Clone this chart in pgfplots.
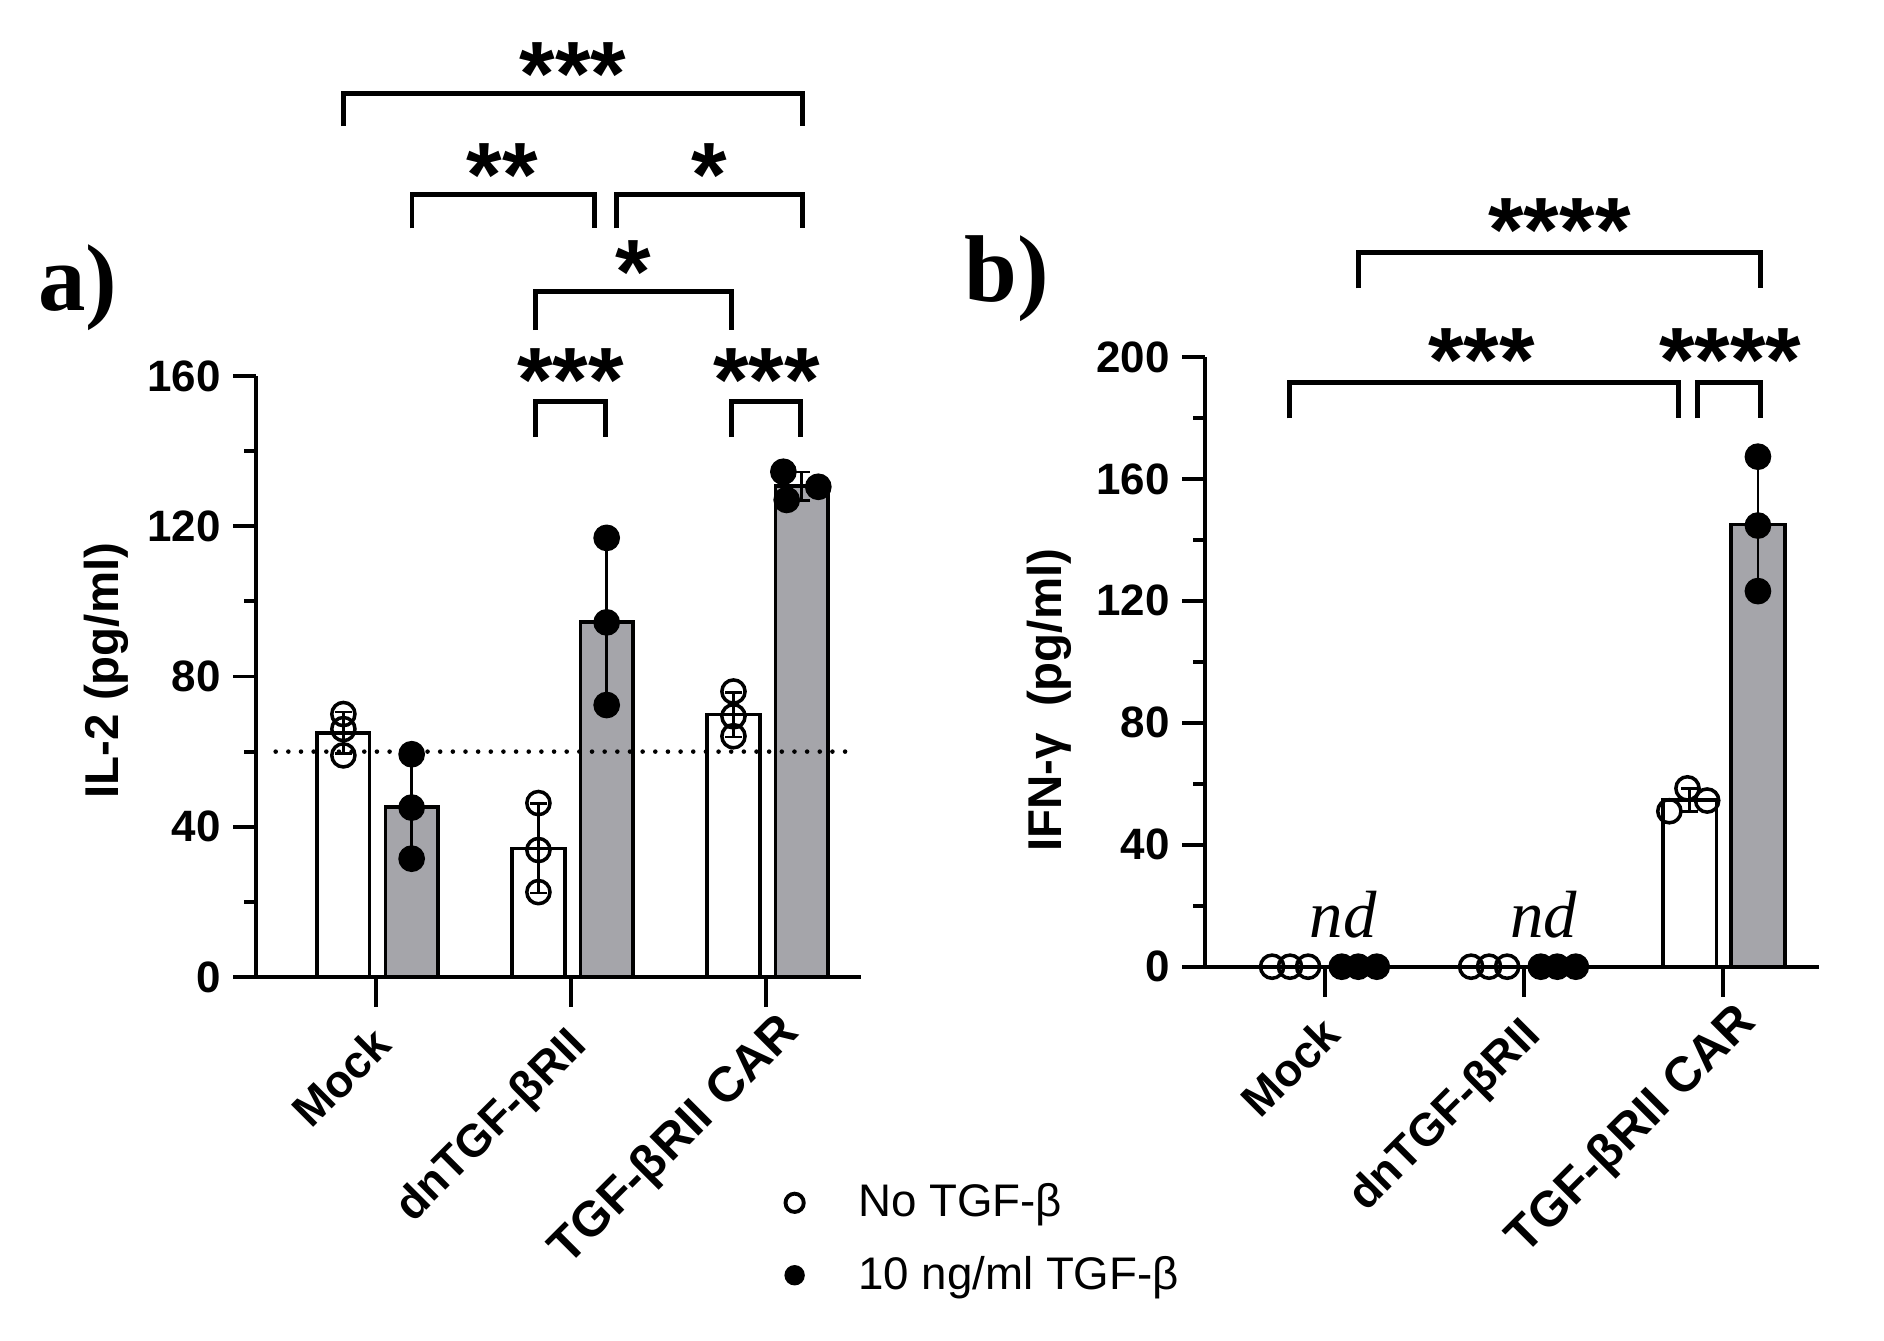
\documentclass[border=0pt]{standalone}
\usepackage{pgfplots}
\pgfplotsset{compat=1.18}
\usepackage{fontspec}
\setmainfont{Liberation Sans}
\newfontfamily\serif{Liberation Serif}
\definecolor{bargray}{RGB}{165,165,170}
\newcommand{\starfont}{\bfseries\fontsize{26}{26}\selectfont}
\newcommand{\ndfont}{\serif\itshape\fontsize{19}{19}\selectfont}
\begin{document}
\begin{tikzpicture}[x=1mm,y=1mm]
\path[use as bounding box] (0,0) rectangle (188.4,134.1);
\pgfplotsset{
  common/.style={
    scale only axis,
    axis x line*=bottom, axis y line*=left, separate axis lines,
    every outer x axis line/.append style={-},
    every outer y axis line/.append style={-},
    axis line style={line width=1.1pt},
    xtick pos=bottom, ytick pos=left,
    clip=false,
    tick align=outside,
    major tick length=2.3mm,
    minor tick length=1.2mm,
    every tick/.style={black, line width=1.1pt},
    xtick={0,1,2},
    xticklabels={Mock, dnTGF-βRII, {\fontsize{14}{14}\selectfont TGF-βRII CAR\hspace*{-2.1mm}}},
    xtick style={/pgfplots/major tick length=3mm},
    minor y tick num=1,
    xticklabel style={font=\bfseries\fontsize{13}{13}\selectfont, xshift=-0.55mm, yshift=-2.3mm, rotate=45, anchor=north east, inner sep=0pt},
    yticklabel style={font=\bfseries\fontsize{12.5}{13}\selectfont},
    /pgf/number format/assume math mode=true,
    ylabel style={font=\bfseries\fontsize{13.5}{14}\selectfont, anchor=center},
  },
  wbar/.style={ybar, bar width=0.27, bar shift=0pt, fill=white, draw=black, line width=1pt,
    error bars/.cd, y dir=both, y explicit,
    error bar style={black, line width=0.8pt},
    error mark options={rotate=90, mark size=2.4pt, line width=0.8pt, black}},
  gbar/.style={ybar, bar width=0.27, bar shift=0pt, fill=bargray, draw=black, line width=1pt,
    error bars/.cd, y dir=both, y explicit,
    error bar style={black, line width=0.8pt},
    error mark options={rotate=90, mark size=2.4pt, line width=0.8pt, black}},
  opend/.style={only marks, mark=o, mark size=3.3pt, mark options={line width=1pt, black, fill=none}},
  filld/.style={only marks, mark=*, mark size=3.6pt, mark options={draw=black, fill=black}},
}
% ---------------- panel a ----------------
\begin{axis}[common,
  at={(25.6mm,36.4mm)}, anchor=south west,
  width=60.5mm, height=60.1mm,
  xmin=-0.615, xmax=2.487, ymin=0, ymax=160,
  ytick={0,40,80,120,160},
  ylabel={IL-2 (pg/ml)},
  ylabel style={at={(axis description cs:-0.248,0.51)}},
  legend style={at={(0.856,-0.436)}, anchor=west, draw=none, fill=none,
    font=\fontsize{13}{15}\selectfont, row sep=2mm,
    /tikz/every odd column/.style={column sep=4.7mm}},
  legend cell align=left,
]
\addlegendimage{only marks, mark=o, mark size=2.6pt, mark options={line width=1.1pt, black}}
\addlegendentry{No TGF-β}
\addlegendimage{only marks, mark=*, mark size=2.7pt, mark options={black}}
\addlegendentry{10 ng/ml TGF-β}
\addplot[wbar] coordinates {(-0.167,65) +- (0,5.57) (0.833,34.23) +- (0,11.86) (1.833,69.83) +- (0,5.96)};
\addplot[gbar] coordinates {(0.183,45.3) +- (0,13.9) (1.183,94.57) +- (0,22.25) (2.183,130.67) +- (0,3.75)};
\addplot[line width=1.3pt, dash pattern=on 0pt off 3.6pt, line cap=round] coordinates {(-0.514,60) (2.47,60)};
\addplot[opend] coordinates {(-0.167,70) (-0.167,66) (-0.167,59) (0.833,46.3) (0.833,33.8) (0.833,22.6) (1.833,76) (1.833,69.4) (1.833,64.1)};
\addplot[filld] coordinates {(0.183,59.3) (0.183,45.1) (0.183,31.5) (1.183,116.9) (1.183,94.4) (1.183,72.4) (2.089,134.5) (2.268,130.5) (2.106,127)};
% brackets
\draw[line width=1.4pt] (axis cs:-0.166,226.5) |- (axis cs:2.188,235.2) -- (axis cs:2.188,226.5);
\draw[line width=1.4pt] (axis cs:0.185,199.3) |- (axis cs:1.122,208.3) -- (axis cs:1.122,199.3);
\draw[line width=1.4pt] (axis cs:1.233,199.3) |- (axis cs:2.188,208.3) -- (axis cs:2.188,199.3);
\draw[line width=1.4pt] (axis cs:0.82,172.2) |- (axis cs:1.824,182.4) -- (axis cs:1.824,172.2);
\draw[line width=1.4pt] (axis cs:0.82,143.7) |- (axis cs:1.177,153.3) -- (axis cs:1.177,143.7);
\draw[line width=1.4pt] (axis cs:1.824,143.7) |- (axis cs:2.175,153.3) -- (axis cs:2.175,143.7);
\node[anchor=base, inner sep=0pt, font=\starfont] at (axis cs:1.011,232.1) {***};
\node[anchor=base, inner sep=0pt, font=\starfont] at (axis cs:0.647,205) {**};
\node[anchor=base, inner sep=0pt, font=\starfont] at (axis cs:1.707,205) {*};
\node[anchor=base, inner sep=0pt, font=\starfont] at (axis cs:1.319,179.3) {*};
\node[anchor=base, inner sep=0pt, font=\starfont] at (axis cs:0.998,150.5) {***};
\node[anchor=base, inner sep=0pt, font=\starfont] at (axis cs:2.003,150.5) {***};
\end{axis}
% ---------------- panel b ----------------
\begin{axis}[common,
  at={(120.5mm,37.43mm)}, anchor=south west,
  width=61.4mm, height=60.97mm,
  xmin=-0.603, xmax=2.482, ymin=0, ymax=200,
  ytick={0,40,80,120,160,200},
  ylabel={IFN-γ\ \ (pg/ml)},
  ylabel style={at={(axis description cs:-0.254,0.437)}},
]
\addplot[wbar] coordinates {(1.833,54.67) +- (0,3.75)};
\addplot[gbar] coordinates {(2.175,145.07) +- (0,22.05)};
\addplot[opend] coordinates {(-0.266,0) (-0.176,0) (-0.085,0) (0.734,0) (0.824,0) (0.915,0) (1.821,58.5) (1.73,51) (1.92,54.5)};
\addplot[filld] coordinates {(0.084,0) (0.167,0) (0.26,0) (1.084,0) (1.167,0) (1.26,0) (2.175,167.3) (2.175,144.7) (2.175,123.2)};
\draw[line width=1.4pt] (axis cs:0.17,222.5) |- (axis cs:2.187,234.3) -- (axis cs:2.187,222.5);
\draw[line width=1.4pt] (axis cs:-0.18,179.9) |- (axis cs:1.776,191.7) -- (axis cs:1.776,179.9);
\draw[line width=1.4pt] (axis cs:1.87,179.9) |- (axis cs:2.187,191.7) -- (axis cs:2.187,179.9);
\node[anchor=base, inner sep=0pt, font=\starfont] at (axis cs:1.178,231.4) {****};
\node[anchor=base, inner sep=0pt, font=\starfont] at (axis cs:0.786,188.8) {***};
\node[anchor=base, inner sep=0pt, font=\starfont] at (axis cs:2.036,188.8) {****};
\node[anchor=base, inner sep=0pt, font=\ndfont] at (axis cs:0.092,9.7) {nd};
\node[anchor=base, inner sep=0pt, font=\ndfont] at (axis cs:1.1,9.7) {nd};
\end{axis}
% panel letters
\node[font=\serif\bfseries\fontsize{27}{27}\selectfont, inner sep=0pt] at (7.8,105.3) {a)};
\node[font=\serif\bfseries\fontsize{27}{27}\selectfont, inner sep=0pt] at (100.7,106.2) {b)};
\end{tikzpicture}
\end{document}
